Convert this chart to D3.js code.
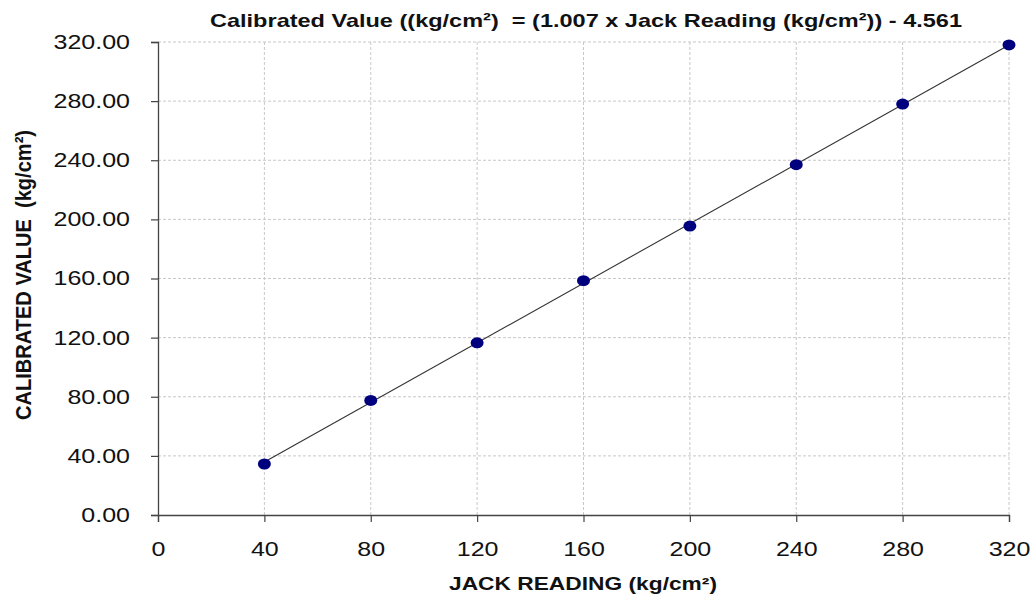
<!DOCTYPE html>
<html><head><meta charset="utf-8">
<script src="https://d3js.org/d3.v7.min.js"></script>
<style>body{margin:0;background:#fff}svg{display:block}text{white-space:pre}</style>
</head><body>
<script>
const jackReading = [40, 80, 120, 160, 200, 240, 280, 320];
const calibratedValue = [34.5, 77.5, 116.5, 158.5, 195.5, 237, 278, 318];
const xTicks = [0, 40, 80, 120, 160, 200, 240, 280, 320];
const yTicks = [0, 40, 80, 120, 160, 200, 240, 280, 320];
const titleText = "Calibrated Value ((kg/cm\u00B2)  = (1.007 x Jack Reading (kg/cm\u00B2)) - 4.561";
const xTitle = "JACK READING (kg/cm\u00B2)";
const yTitle = "CALIBRATED VALUE  (kg/cm\u00B2)";

const W = 1031, H = 595;
const m = {l:158, r:22, t:42, b:80};
const svg = d3.select("body").append("svg").attr("width", W).attr("height", H);
const x = d3.scaleLinear().domain([0, 320]).range([m.l, W - m.r]);
const y = d3.scaleLinear().domain([0, 320]).range([H - m.b, m.t]);
const font = "'Liberation Sans', Arial, sans-serif";
const stretch = 1.25;

// grid
svg.append("g").selectAll("line").data(xTicks.slice(1)).join("line")
  .attr("x1", d => x(d)).attr("x2", d => x(d)).attr("y1", y(0)).attr("y2", y(320))
  .attr("stroke", "#c8c8c8").attr("stroke-dasharray", "3,2");
svg.append("g").selectAll("line").data(yTicks.slice(1)).join("line")
  .attr("x1", x(0)).attr("x2", x(320)).attr("y1", d => y(d)).attr("y2", d => y(d))
  .attr("stroke", "#c8c8c8").attr("stroke-dasharray", "3,2");

// axes
const xAxis = svg.append("g").attr("transform", `translate(0,${y(0)})`)
  .call(d3.axisBottom(x).tickValues(xTicks).tickSize(7).tickPadding(20).tickFormat(d3.format("d")));
const yAxis = svg.append("g").attr("transform", `translate(${x(0)},0)`)
  .call(d3.axisLeft(y).tickValues(yTicks).tickSize(7).tickPadding(21).tickFormat(d3.format(".2f")));
[xAxis, yAxis].forEach(a => {
  a.select(".domain").attr("stroke", "#444").attr("stroke-width", 1.3);
  a.selectAll(".tick line").attr("stroke", "#444").attr("stroke-width", 1.2);
  a.selectAll("text").attr("font-family", font).attr("font-size", 20).attr("fill", "#111")
    .each(function(){ const L = this.getComputedTextLength(); d3.select(this).attr("textLength", L*stretch).attr("lengthAdjust", "spacingAndGlyphs"); });
});

// trendline (least squares from data)
const mx = d3.mean(jackReading), my = d3.mean(calibratedValue);
const slope = d3.sum(jackReading.map((v,i) => (v-mx)*(calibratedValue[i]-my))) / d3.sum(jackReading.map(v => (v-mx)*(v-mx)));
const icpt = my - slope*mx;
const x0 = d3.min(jackReading), x1 = d3.max(jackReading);
svg.append("line")
  .attr("x1", x(x0)).attr("y1", y(slope*x0+icpt)).attr("x2", x(x1)).attr("y2", y(slope*x1+icpt))
  .attr("stroke", "#333").attr("stroke-width", 1.1);

// points
svg.append("g").selectAll("ellipse").data(jackReading).join("ellipse")
  .attr("cx", d => x(d)).attr("cy", (d,i) => y(calibratedValue[i]))
  .attr("rx", 6.5).attr("ry", 5.5).attr("fill", "#00007f");

// titles
svg.append("text").attr("x", 586).attr("y", 27).attr("text-anchor", "middle")
  .attr("font-family", font).attr("font-weight", "bold").attr("font-size", 19).attr("fill", "#111")
  .attr("textLength", 752).attr("lengthAdjust", "spacingAndGlyphs")
  .text(titleText);
svg.append("text").attr("x", 583).attr("y", 590).attr("text-anchor", "middle")
  .attr("font-family", font).attr("font-weight", "bold").attr("font-size", 18).attr("fill", "#111")
  .attr("textLength", 268).attr("lengthAdjust", "spacingAndGlyphs")
  .text(xTitle);
svg.append("text").attr("transform", `translate(31,275) rotate(-90) scale(1,1.2)`).attr("text-anchor", "middle")
  .attr("font-family", font).attr("font-weight", "bold").attr("font-size", 19).attr("fill", "#111")
  .attr("textLength", 290).attr("lengthAdjust", "spacingAndGlyphs")
  .text(yTitle);
</script>
</body></html>
